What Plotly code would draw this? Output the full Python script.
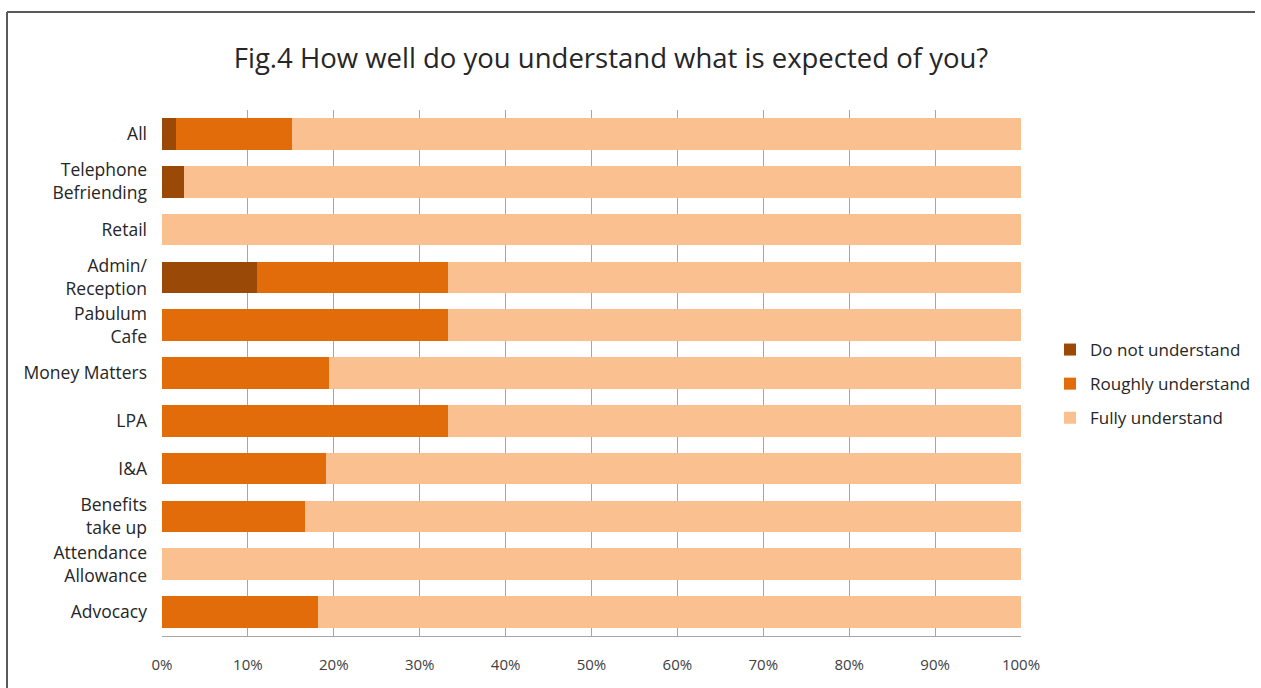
import plotly.graph_objects as go

# Service areas, listed top to bottom
categories = [
    "All", "Telephone<br>Befriending", "Retail", "Admin/<br>Reception",
    "Pabulum<br>Cafe", "Money Matters", "LPA", "I&A",
    "Benefits<br>take up", "Attendance<br>Allowance", "Advocacy",
]

# Share of volunteers (%) per answer
do_not_understand = [1.6, 2.6, 0, 11.1, 0, 0, 0, 0, 0, 0, 0]
roughly_understand = [13.5, 0, 0, 22.2, 33.3, 19.4, 33.3, 19.1, 16.7, 0, 18.2]
fully_understand = [84.9, 97.4, 100, 66.7, 66.7, 80.6, 66.7, 80.9, 83.3, 100, 81.8]

series_names = ["Do not understand", "Roughly understand", "Fully understand"]
series_values = [do_not_understand, roughly_understand, fully_understand]
series_colors = ["#9A4906", "#E36C0A", "#FAC090"]

x_tick_values = [0, 10, 20, 30, 40, 50, 60, 70, 80, 90, 100]
x_tick_labels = [f"{v}%" for v in x_tick_values]

fig = go.Figure()
for name, vals, col in zip(series_names, series_values, series_colors):
    fig.add_trace(go.Bar(
        y=categories, x=vals, name=name, orientation="h", legendgroup=name,
        marker=dict(color=col, line=dict(width=0)),
        hovertemplate="%{y}: %{x}%<extra>" + name + "</extra>",
    ))

W, H = 1261, 688
L, R, T, B = 162, 240, 110, 52
pw, ph = W - L - R, H - T - B

fig.update_layout(
    width=W, height=H,
    margin=dict(l=L, r=R, t=T, b=B, pad=0, autoexpand=False),
    barmode="stack", bargap=0.34,
    plot_bgcolor="white", paper_bgcolor="white",
    font=dict(family="Open Sans, Noto Sans, sans-serif", color="#333333"),
    title=dict(
        text="Fig.4 How well do you understand what is expected of you?",
        x=611 / W, xanchor="center", xref="container",
        y=1 - 58 / H, yanchor="middle", yref="container",
        font=dict(size=27.5, color="#262626"),
    ),
    legend=dict(
        x=(1050 - L) / pw, xanchor="left",
        y=(636 - 384) / ph, yanchor="middle",
        traceorder="grouped", font=dict(size=17, color="#262626"),
        itemwidth=30, tracegroupgap=9, bgcolor="rgba(0,0,0,0)",
    ),
    showlegend=True,
)

fig.update_xaxes(
    range=[0, 100], tickvals=x_tick_values, ticktext=x_tick_labels,
    showgrid=True, gridcolor="#A6A6A6", gridwidth=1,
    showline=True, linecolor="#A6A6A6", linewidth=1,
    zeroline=False, ticks="", ticklabelstandoff=15,
    tickfont=dict(size=15, color="#404040"), fixedrange=True,
)
fig.update_yaxes(
    autorange="reversed", showgrid=False, showline=False, zeroline=False,
    ticks="", ticklabelstandoff=14,
    tickfont=dict(size=17.5, color="#262626"), fixedrange=True,
)

# Frame edges along the top and left of the chart
frame_left = (7 - L) / pw
frame_top = (H - B - 12) / ph
frame_style = dict(color="#595959", width=2)
fig.add_shape(type="line", xref="paper", yref="paper",
              x0=frame_left, x1=(W - 6 - L) / pw, y0=frame_top, y1=frame_top,
              line=frame_style, layer="below")
fig.add_shape(type="line", xref="paper", yref="paper",
              x0=frame_left, x1=frame_left, y0=frame_top, y1=-B / ph,
              line=frame_style, layer="below")

fig.write_html("out.html")
